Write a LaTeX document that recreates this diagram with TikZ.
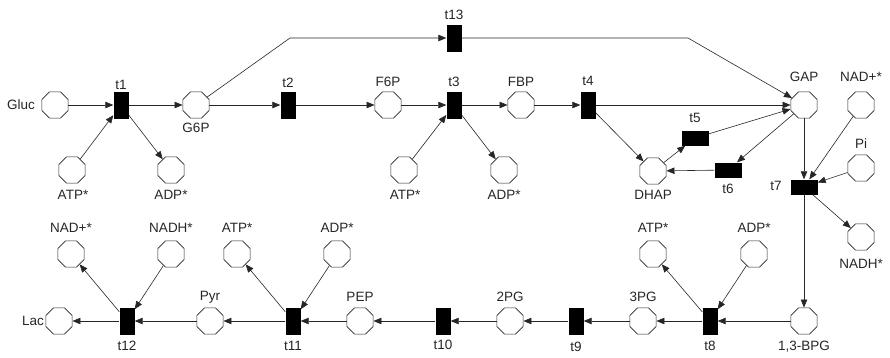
\documentclass[tikz,border=0pt]{standalone}
\usepackage{fontspec}
\setmainfont{Liberation Sans}
\usetikzlibrary{shapes.geometric,arrows.meta}
\tikzset{
  place/.style={regular polygon, regular polygon sides=8, minimum size=28.5pt, inner sep=0pt, draw=black!85, line width=0.6pt, fill=white},
  vtrans/.style={rectangle, fill=black, minimum width=15pt, minimum height=27pt, inner sep=0pt},
  htrans/.style={rectangle, fill=black, minimum width=27pt, minimum height=15pt, inner sep=0pt},
  lbl/.style={inner sep=0pt, text height=9.6pt, text depth=0pt, font=\fontsize{13.5}{15}\selectfont, text=black!85},
  arc/.style={-{Triangle[length=8pt,width=6.5pt]}, line width=0.6pt, draw=black!85},
}
\begin{document}
\begin{tikzpicture}[x=1pt,y=-1pt]
\useasboundingbox (0,0) rectangle (890,357);
% places
\node[place] (gluc) at (55,105) {};
\node[place] (g6p) at (196,105) {};
\node[place] (atp1) at (72,170) {};
\node[place] (adp1) at (171,170) {};
\node[place] (f6p) at (388,105) {};
\node[place] (fbp) at (521,105) {};
\node[place] (atp3) at (404,170) {};
\node[place] (adp3) at (504,170) {};
\node[place] (gap) at (804,105) {};
\node[place] (nadtop) at (861,105) {};
\node[place] (pi) at (861,168) {};
\node[place] (dhap) at (653,171) {};
\node[place] (nadhr) at (861,237) {};
\node[place] (bpg) at (804,321) {};
\node[place] (atp8) at (653,254) {};
\node[place] (adp8) at (754,254) {};
\node[place] (pg3) at (643,321) {};
\node[place] (pg2) at (510,321) {};
\node[place] (pep) at (360,321) {};
\node[place] (adp11) at (337,254) {};
\node[place] (atp11) at (237,254) {};
\node[place] (pyr) at (210,321) {};
\node[place] (nadh12) at (171,254) {};
\node[place] (nad12) at (71,254) {};
\node[place] (lac) at (59,321) {};
% transitions
\node[vtrans] (t1) at (121,105) {};
\node[vtrans] (t2) at (288,105) {};
\node[vtrans] (t3) at (454,105) {};
\node[vtrans] (t4) at (588,105) {};
\node[vtrans] (t13) at (454,38) {};
\node[htrans] (t5) at (695,138) {};
\node[htrans] (t6) at (728,170) {};
\node[htrans] (t7) at (804,187) {};
\node[vtrans] (t8) at (710,321) {};
\node[vtrans] (t9) at (576,321) {};
\node[vtrans] (t10) at (443,321) {};
\node[vtrans] (t11) at (293,321) {};
\node[vtrans] (t12) at (127,321) {};
\coordinate (c1) at (290,38);
\coordinate (c2) at (688,38);
% labels
\node[lbl] (lgluc) at (21,105) {Gluc};
\node[lbl] (lt1) at (121,85) {t1};
\node[lbl] (lg6p) at (196,128) {G6P};
\node[lbl] (lt2) at (288,83) {t2};
\node[lbl] (latp1) at (73,195) {ATP*};
\node[lbl] (ladp1) at (171,195) {ADP*};
\node[lbl] (lf6p) at (388,82) {F6P};
\node[lbl] (lt3) at (454,82) {t3};
\node[lbl] (lfbp) at (521,82) {FBP};
\node[lbl] (lt4) at (588,81) {t4};
\node[lbl] (lt13) at (454,15) {t13};
\node[lbl] (latp3) at (405,195) {ATP*};
\node[lbl] (ladp3) at (504,195) {ADP*};
\node[lbl] (lgap) at (804,77) {GAP};
\node[lbl] (lnadtop) at (861,77) {NAD+*};
\node[lbl] (lt5) at (695,118) {t5};
\node[lbl] (lt6) at (728,189) {t6};
\node[lbl] (ldhap) at (653,195) {DHAP};
\node[lbl] (lpi) at (861,144) {Pi};
\node[lbl] (lt7) at (776,186) {t7};
\node[lbl] (lnadhr) at (861,264) {NADH*};
\node[lbl] (lbpg) at (804,346) {1,3-BPG};
\node[lbl] (lt8) at (710,346) {t8};
\node[lbl] (latp8) at (653,228) {ATP*};
\node[lbl] (ladp8) at (754,228) {ADP*};
\node[lbl] (lpg3) at (643,297) {3PG};
\node[lbl] (lt9) at (576,347) {t9};
\node[lbl] (lpg2) at (510,297) {2PG};
\node[lbl] (lt10) at (443,345) {t10};
\node[lbl] (lpep) at (360,297) {PEP};
\node[lbl] (lt11) at (293,346) {t11};
\node[lbl] (ladp11) at (337,228) {ADP*};
\node[lbl] (latp11) at (237,228) {ATP*};
\node[lbl] (lpyr) at (210,296) {Pyr};
\node[lbl] (lt12) at (127,346) {t12};
\node[lbl] (lnadh12) at (171,228) {NADH*};
\node[lbl] (lnad12) at (71,228) {NAD+*};
\node[lbl] (llac) at (33,321) {Lac};
% arcs
\draw[arc] (gluc) -- (t1);
\draw[arc] (atp1) -- (t1);
\draw[arc] (t1) -- (g6p);
\draw[arc] (t1) -- (adp1);
\draw[arc] (g6p) -- (t2);
\draw[arc] (g6p) -- (c1) -- (t13);
\draw[arc] (t2) -- (f6p);
\draw[arc] (f6p) -- (t3);
\draw[arc] (atp3) -- (t3);
\draw[arc] (t3) -- (adp3);
\draw[arc] (t3) -- (fbp);
\draw[arc] (fbp) -- (t4);
\draw[arc] (t4) -- (gap);
\draw[arc] (t4) -- (dhap);
\draw[arc] (t13) -- (c2) -- (gap);
\draw[arc] (dhap) -- (t5);
\draw[arc] (t5) -- (gap);
\draw[arc] (gap) -- (t6);
\draw[arc] (t6) -- (dhap);
\draw[arc] (gap) -- (t7);
\draw[arc] (nadtop) -- (t7);
\draw[arc] (pi) -- (t7);
\draw[arc] (t7) -- (nadhr);
\draw[arc] (t7) -- (bpg);
\draw[arc] (bpg) -- (t8);
\draw[arc] (adp8) -- (t8);
\draw[arc] (t8) -- (atp8);
\draw[arc] (t8) -- (pg3);
\draw[arc] (pg3) -- (t9);
\draw[arc] (t9) -- (pg2);
\draw[arc] (pg2) -- (t10);
\draw[arc] (t10) -- (pep);
\draw[arc] (pep) -- (t11);
\draw[arc] (adp11) -- (t11);
\draw[arc] (t11) -- (atp11);
\draw[arc] (t11) -- (pyr);
\draw[arc] (pyr) -- (t12);
\draw[arc] (nadh12) -- (t12);
\draw[arc] (t12) -- (nad12);
\draw[arc] (t12) -- (lac);
\end{tikzpicture}
\end{document}
